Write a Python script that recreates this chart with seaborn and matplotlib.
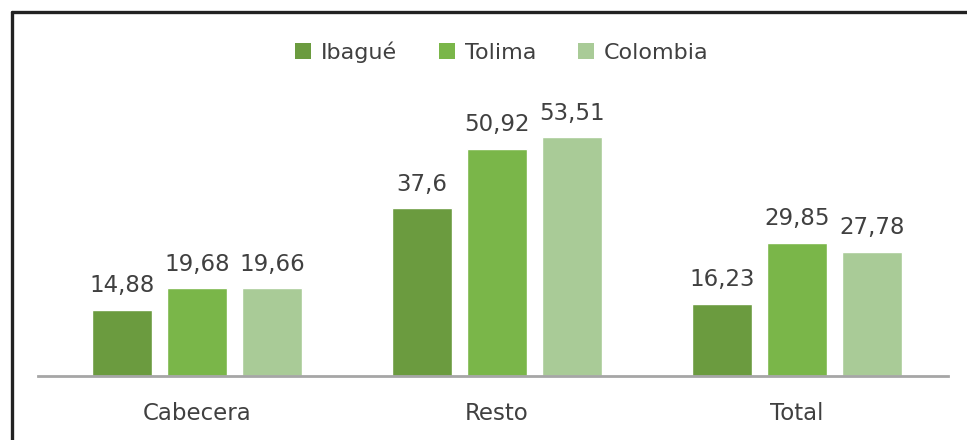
import matplotlib
matplotlib.use("Agg")
import matplotlib.pyplot as plt
from matplotlib.lines import Line2D
from matplotlib.patches import Patch
import seaborn as sns
import pandas as pd

# datos
categorias = ["Cabecera", "Resto", "Total"]
series = ["Ibagué", "Tolima", "Colombia"]
ibague = [14.88, 37.6, 16.23]
tolima = [19.68, 50.92, 29.85]
colombia = [19.66, 53.51, 27.78]
colores = ["#6B9B3F", "#7AB649", "#A9CB97"]

df = pd.DataFrame({
    "Zona": categorias * 3,
    "Serie": [s for s in series for _ in categorias],
    "Valor": ibague + tolima + colombia,
})

sns.set_style("white")
plt.rcParams["font.family"] = ["DejaVu Sans"]

fig = plt.figure(figsize=(9.67, 4.4), dpi=100)
ax = fig.add_axes([38 / 967, 1 - 376 / 440, (948 - 38) / 967, (376 - 100) / 440])

sns.barplot(data=df, x="Zona", y="Valor", hue="Serie", hue_order=series,
            palette=colores, width=0.75, gap=0.2, saturation=1,
            legend=False, ax=ax)

for cont in ax.containers:
    ax.bar_label(cont, labels=[f"{v:g}".replace(".", ",") for v in cont.datavalues],
                 padding=9, fontsize=16.5, color="#404040")

ax.set_xlim(-0.53, 2.503)
ax.set_ylim(0, 61.8)
ax.set_xlabel("")
ax.set_ylabel("")
ax.set_yticks([])
ax.tick_params(axis="x", length=0, labelsize=16.5, labelcolor="#404040", pad=19)
for s in ["top", "right", "left"]:
    ax.spines[s].set_visible(False)
ax.spines["bottom"].set_color("#A6A6A6")
ax.spines["bottom"].set_linewidth(2)

handles = [Patch(facecolor=c, edgecolor="none") for c in colores]
fig.legend(handles, series, loc="center", bbox_to_anchor=(0.519, 1 - 52 / 440),
           ncol=3, frameon=False, fontsize=16, handlelength=0.7, handleheight=0.7,
           handletextpad=0.45, columnspacing=1.9, labelcolor="#404040")

# marco
fig.add_artist(Line2D([12 / 967, 12 / 967], [0, 1 - 12 / 440], color="#222222", lw=2.4))
fig.add_artist(Line2D([12 / 967, 1], [1 - 12 / 440, 1 - 12 / 440], color="#222222", lw=2.4))

fig.savefig("out.png", dpi=100)
